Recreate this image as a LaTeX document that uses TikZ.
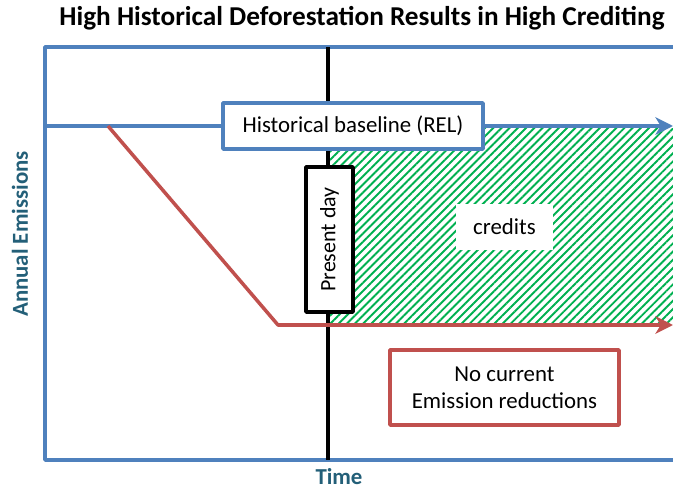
\documentclass[tikz,border=0pt]{standalone}
\usepackage{fontspec}
\setmainfont{Carlito}
\usetikzlibrary{arrows.meta,patterns.meta}
\definecolor{relblue}{RGB}{79,129,189}
\definecolor{cutred}{RGB}{192,80,77}
\definecolor{hatchgreen}{RGB}{0,176,80}
\definecolor{axisteal}{RGB}{35,95,120}
\tikzset{
  labelbox/.style={draw, line width=2pt, fill=white, inner sep=0pt, align=center},
  axislabel/.style={font=\bfseries\fontsize{13}{15}\selectfont, text=axisteal},
}
\begin{document}
\begin{tikzpicture}[x=0.02cm, y=-0.02cm, font=\fontsize{13}{15.5}\selectfont, line join=round, >={Stealth[length=10pt,width=10pt,inset=3pt]}]
				\useasboundingbox (0,0) rectangle (673,490);
				% credits area
				\fill[pattern={Lines[angle=45,distance=3.3pt,line width=1.1pt]}, pattern color=hatchgreen] (330,128) rectangle (673,323);
				% axes
				\begin{scope}
				\clip (0,0) rectangle (673,490);
				\draw[relblue, line width=2pt] (690,47) -- (45,47) -- (45,460) -- (690,460);
				\end{scope}
				\coordinate (tTop) at (328,47);
				\coordinate (tBot) at (328,460);
				\draw[line width=2pt] (tTop) -- (tBot);
				% baseline and emissions
				\coordinate (bStart) at (45,126);
				\coordinate (bEnd) at (673,126);
				\coordinate (eStart) at (108,126);
				\coordinate (eKnee) at (278,325);
				\coordinate (eEnd) at (673,325);
				\draw[->, relblue, line width=2pt] (bStart) -- (bEnd);
				\draw[->, cutred, line width=2pt] (eStart) -- (eKnee) -- (eEnd);
				% labels
				\node[labelbox, draw=relblue, minimum width=5.2cm, minimum height=0.92cm] (rel) at (353,126) {Historical baseline (REL)};
				\node[labelbox, rotate=90, minimum width=2.9cm, minimum height=0.94cm, font=\fontsize{12.5}{14}\selectfont] (today) at (329.5,239.5) {Present day};
				\node[fill=white, minimum width=1.94cm, minimum height=0.93cm, inner sep=0pt] (credits) at (504.5,227) {credits};
				\node[labelbox, draw=cutred, minimum width=4.58cm, minimum height=1.5cm] (nocut) at (504.5,387.5) {No current\\Emission reductions};
				\node[font=\bfseries\fontsize{15.5}{18}\selectfont] (title) at (362,18) {High Historical Deforestation Results in High Crediting};
				\node[axislabel, rotate=90] (yaxis) at (20,234) {Annual Emissions};
				\node[axislabel] (xaxis) at (339,477) {Time};
		\end{tikzpicture}
\end{document}
